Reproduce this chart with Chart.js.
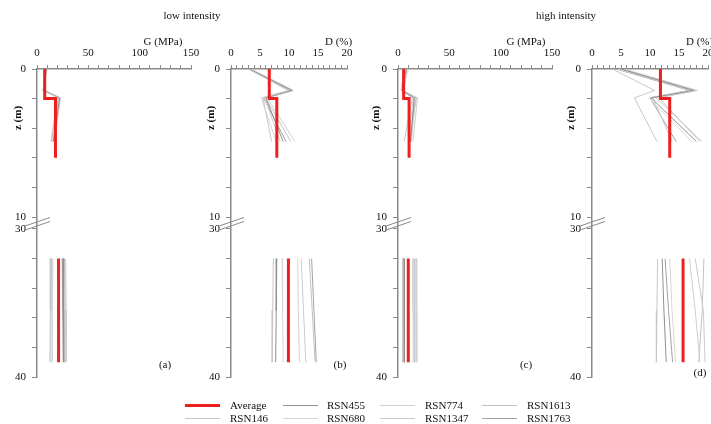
<!DOCTYPE html>
<html>
<head>
<meta charset="utf-8">
<script src="https://cdn.jsdelivr.net/npm/chart.js@4.4.0/dist/chart.umd.min.js"></script>
<style>
  body { margin: 0; background: #fff; }
  #wrap { position: relative; width: 711px; height: 424px; overflow: hidden;
          font-family: 'Liberation Serif', 'Times New Roman', serif; font-size: 11px; color: #111; }
  #wrap canvas { position: absolute; top: 0; }
  .t { position: absolute; white-space: nowrap; line-height: 1; transform: translate(-50%, -50%); }
  .tl { position: absolute; white-space: nowrap; line-height: 1; transform: translate(0, -50%); }
  .zl { position: absolute; white-space: nowrap; line-height: 1; font-weight: bold;
        transform: translate(-50%, -50%) rotate(-90deg); }
  .sw { position: absolute; }
</style>
</head>
<body>
<div id="wrap">
  <canvas id="panelA" width="214" height="424" style="left:-3px"></canvas>
  <canvas id="panelB" width="176" height="424" style="left:191px"></canvas>
  <canvas id="panelC" width="214" height="424" style="left:358px"></canvas>
  <canvas id="panelD" width="176" height="424" style="left:552px"></canvas>

  <div class="t" style="left:192px;top:15px">low intensity</div>
  <div class="t" style="left:566px;top:15px">high intensity</div>

  <div class="t" style="left:163px;top:41px">G (MPa)</div>
  <div class="tl" style="left:325px;top:41px">D (%)</div>
  <div class="t" style="left:526px;top:41px">G (MPa)</div>
  <div class="tl" style="left:686px;top:41px">D (%)</div>

  <div class="zl" style="left:17px;top:118px">z (m)</div>
  <div class="zl" style="left:210px;top:118px">z (m)</div>
  <div class="zl" style="left:375px;top:118px">z (m)</div>
  <div class="zl" style="left:570px;top:118px">z (m)</div>

  <div class="t" style="left:165px;top:364px">(a)</div>
  <div class="t" style="left:340px;top:364px">(b)</div>
  <div class="t" style="left:526px;top:364px">(c)</div>
  <div class="t" style="left:700px;top:372px">(d)</div>

  <div id="legend"></div>
</div>

<script>
// ============================================================
// Data
// ============================================================
// depth axis is broken between 10 m and 30 m
const GAP = 0.81;
const yTickDepths = [0, 2, 4, 6, 8, 10, 30, 32, 34, 36, 38, 40];
const yTickLabels = ['0', '', '', '', '', '10', '30', '', '', '', '', '40'];

const zUpper = [0, 1.45, 1.95, 4.9];
const zLower = [32, 35.5, 39];
const zAvgUpper = [0, 2, 2, 6];
const zAvgLower = [32, 39];

const seriesNames = ['RSN146', 'RSN455', 'RSN680', 'RSN774', 'RSN1347', 'RSN1613', 'RSN1763'];

// (a) G (MPa), low intensity
const gLowUpper = [
  [8, 6, 21, 14], [9, 7, 22, 16], [8, 6.5, 21.5, 15], [10, 5.5, 23, 17],
  [8.5, 7, 20, 13.5], [9, 6, 22.5, 16.5], [7.5, 6.5, 22, 15.5]
];
const gLowLower = [
  [13, 13, 12.5], [25.5, 26, 26], [15.5, 15, 15], [28, 28.5, 28.5],
  [14, 13.8, 13.5], [27, 27.5, 27.5], [24.5, 25, 25.5]
];
const gLowAvgUpper = [7.5, 7.5, 18, 18];
const gLowAvgLower = [21, 21];

// (b) D (%), low intensity
const dLowUpper = [
  [3.0, 10.0, 5.5, 7.0], [3.2, 10.5, 6.0, 9.0], [3.0, 9.8, 5.2, 7.8], [3.4, 10.8, 6.3, 11.0],
  [3.1, 10.2, 5.8, 8.5], [3.3, 10.6, 6.0, 10.3], [3.2, 10.4, 5.6, 9.5]
];
const dLowLower = [
  [7.3, 7.2, 7.1], [7.9, 7.8, 7.7], [8.8, 8.9, 9.0], [11.5, 11.6, 11.8],
  [12.1, 12.5, 12.9], [13.5, 14.0, 14.5], [13.9, 14.3, 14.7]
];
const dLowAvgUpper = [6.6, 6.6, 7.9, 7.9];
const dLowAvgLower = [9.9, 9.9];

// (c) G (MPa), high intensity
const gHighUpper = [
  [6, 3, 14, 6], [8, 4, 16, 12], [5.5, 3.5, 15, 10], [10, 5, 19, 14.5],
  [7, 4.5, 17, 13], [9, 4, 18, 11], [6.5, 3.5, 15.5, 12.5]
];
const gHighLower = [
  [4.5, 4.6, 4.7], [6.0, 6.2, 6.3], [14.5, 14.6, 14.8], [18, 18.2, 18.4],
  [16.5, 16.4, 16.3], [15.5, 15.6, 15.8], [5.2, 5.3, 5.5]
];
const gHighAvgUpper = [5.5, 5.5, 10.8, 10.8];
const gHighAvgLower = [10, 10];

// (d) D (%), high intensity
const dHighUpper = [
  [3.5, 10.8, 7.3, 11.2], [5.0, 17.5, 10.2, 18.0], [4.5, 17.0, 9.8, 17.2], [5.5, 18.2, 11.0, 19.0],
  [4.8, 17.3, 10.5, 13.8], [5.2, 18.0, 11.5, 18.6], [4.2, 16.8, 10.0, 14.5]
];
const dHighLower = [
  [11.3, 11.2, 11.1], [12.1, 12.4, 12.8], [13.4, 13.8, 14.4], [16.8, 17.8, 18.6],
  [17.8, 19.2, 19.5], [19.3, 19.0, 18.4], [12.6, 13.2, 13.9]
];
const dHighAvgUpper = [11.8, 11.8, 13.4, 13.4];
const dHighAvgLower = [15.7, 15.7];

// ============================================================
// Styles
// ============================================================
const AVG_COLOR = '#ee1f1f';
const AXIS_COLOR = '#8a8a8a';
const SERIES_COLORS = ['#c6c6c6', '#909090', '#d6d6d6', '#d0d0d0', '#cbcbcb', '#c2c2c2', '#a2a2a2'];

Chart.defaults.font.family = "'Liberation Serif', 'Times New Roman', serif";
Chart.defaults.font.size = 11;
Chart.defaults.color = '#111';

// maps a real depth onto the broken axis
function disp(z) {
  return z <= 10 ? z : z - 20 + GAP;
}

function toPoints(values, depths) {
  return values.map((v, k) => ({ x: v, y: disp(depths[k]) }));
}

// the two little slashes across the axis break
const breakMarks = {
  id: 'breakMarks',
  afterDraw(chart) {
    const { ctx, scales: { x, y } } = chart;
    const ax = x.left;
    const yc = (y.getPixelForValue(disp(10)) + y.getPixelForValue(disp(30))) / 2;
    ctx.save();
    ctx.strokeStyle = AXIS_COLOR;
    ctx.lineWidth = 1;
    [[3, -5.5], [7, -1.5]].forEach(([a, b]) => {
      ctx.beginPath();
      ctx.moveTo(ax - 12, yc + a);
      ctx.lineTo(ax + 13, yc + b);
      ctx.stroke();
    });
    ctx.restore();
  }
};

function renderPanel(canvasId, xMax, xStep, labelEvery, upper, lower, avgUpper, avgLower) {
  const datasets = [
    { data: toPoints(avgUpper, zAvgUpper), borderColor: AVG_COLOR, borderWidth: 3 },
    { data: toPoints(avgLower, zAvgLower), borderColor: AVG_COLOR, borderWidth: 3 }
  ];
  seriesNames.forEach((name, i) => {
    datasets.push({ label: name, data: toPoints(upper[i], zUpper), borderColor: SERIES_COLORS[i], borderWidth: 1 });
    datasets.push({ label: name, data: toPoints(lower[i], zLower), borderColor: SERIES_COLORS[i], borderWidth: 1 });
  });

  const xTicks = [];
  for (let v = 0; v <= xMax + 1e-9; v += xStep) xTicks.push(Math.round(v * 100) / 100);

  new Chart(document.getElementById(canvasId), {
    type: 'scatter',
    data: { datasets },
    options: {
      responsive: false,
      animation: false,
      events: [],
      showLine: true,
      elements: { point: { radius: 0 }, line: { tension: 0 } },
      layout: { padding: { left: 0, right: 20, top: 44, bottom: 47 } },
      plugins: { legend: { display: false }, tooltip: { enabled: false } },
      scales: {
        x: {
          type: 'linear',
          position: 'top',
          min: 0,
          max: xMax,
          afterBuildTicks: (s) => { s.ticks = xTicks.map((v) => ({ value: v })); },
          afterFit: (s) => { s.height = 25; },
          ticks: {
            autoSkip: false,
            maxRotation: 0,
            padding: 5,
            callback: (v) => (Math.round(v) % labelEvery === 0 ? String(v) : '')
          },
          grid: { drawOnChartArea: false, tickLength: 4, color: AXIS_COLOR },
          border: { color: AXIS_COLOR, width: 1.5 }
        },
        y: {
          type: 'linear',
          position: 'left',
          reverse: true,
          min: 0,
          max: disp(40),
          afterBuildTicks: (s) => { s.ticks = yTickDepths.map((z) => ({ value: disp(z) })); },
          afterFit: (s) => { s.width = 40; },
          ticks: {
            autoSkip: false,
            padding: 6,
            callback: (v, i) => yTickLabels[i]
          },
          grid: { drawOnChartArea: false, tickLength: 5, color: AXIS_COLOR },
          border: { color: AXIS_COLOR, width: 1.5 }
        }
      }
    },
    plugins: [breakMarks]
  });
}

renderPanel('panelA', 150, 10, 50, gLowUpper, gLowLower, gLowAvgUpper, gLowAvgLower);
renderPanel('panelB', 20, 1, 5, dLowUpper, dLowLower, dLowAvgUpper, dLowAvgLower);
renderPanel('panelC', 150, 10, 50, gHighUpper, gHighLower, gHighAvgUpper, gHighAvgLower);
renderPanel('panelD', 20, 1, 5, dHighUpper, dHighLower, dHighAvgUpper, dHighAvgLower);

// ============================================================
// Legend (two rows, filled column by column)
// ============================================================
const legendNames = ['Average'].concat(seriesNames);
const legendColors = [AVG_COLOR].concat(SERIES_COLORS);
const legendLineX = [185, 283, 380, 482];
const legendTextX = [230, 327, 425, 527];
const legendRowY = [405, 418];

const legend = document.getElementById('legend');
legendNames.forEach((name, k) => {
  const col = Math.floor(k / 2);
  const row = k % 2;
  const w = k === 0 ? 3 : 1;
  const line = document.createElement('div');
  line.className = 'sw';
  line.style.left = legendLineX[col] + 'px';
  line.style.top = (legendRowY[row] - w / 2) + 'px';
  line.style.width = '35px';
  line.style.height = w + 'px';
  line.style.background = legendColors[k];
  legend.appendChild(line);

  const text = document.createElement('div');
  text.className = 'tl';
  text.style.left = legendTextX[col] + 'px';
  text.style.top = legendRowY[row] + 'px';
  text.textContent = name;
  legend.appendChild(text);
});
</script>
</body>
</html>
